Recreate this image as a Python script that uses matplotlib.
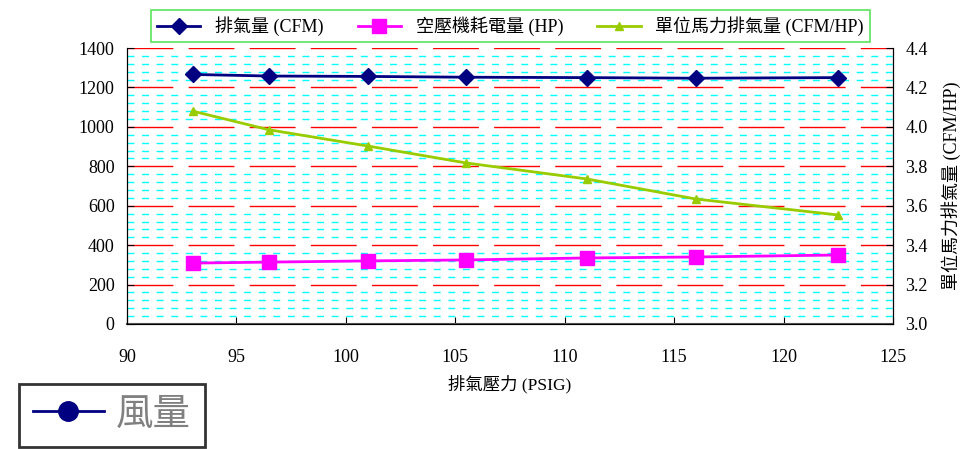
import matplotlib
matplotlib.use("Agg")
import matplotlib.pyplot as plt
from matplotlib.lines import Line2D
from matplotlib.ticker import MultipleLocator

plt.rcParams['font.family'] = ['Liberation Serif', 'Noto Sans CJK TC']

# data
pressure = [93, 96.5, 101, 105.5, 111, 116, 122.5]
cfm = [1266, 1258, 1256, 1252, 1250, 1247, 1250]
hp = [309, 314, 320, 325, 335, 340, 350]
cfm_per_hp = [4.08, 3.985, 3.903, 3.817, 3.736, 3.634, 3.553]

labels = ["排氣量 (CFM)", "空壓機耗電量 (HP)", "單位馬力排氣量 (CFM/HP)"]

fig = plt.figure(figsize=(9.74, 4.49), dpi=100)
ax = fig.add_axes([0.1304, 0.2784, 0.7864, 0.6146])
ax2 = ax.twinx()

# grid lines: red long dashes at majors, cyan short dashes at minors
ax.set_ylim(0, 1400)
ax.yaxis.set_major_locator(MultipleLocator(200))
ax.yaxis.set_minor_locator(MultipleLocator(40))
ax.grid(True, which="major", axis="y", color="#FF0000", linestyle=(0, (33, 11)), linewidth=1)
ax.grid(True, which="minor", axis="y", color="#00FFFF", linestyle=(0, (5, 5.5)), linewidth=1)
ax.set_axisbelow(True)

ax.set_xlim(90, 125)
ax.xaxis.set_major_locator(MultipleLocator(5))

l1, = ax.plot(pressure, cfm, color="#000080", marker="D", markersize=8, linewidth=2)
l2, = ax.plot(pressure, hp, color="#FF00FF", marker="s", markersize=10, linewidth=2)
l3, = ax2.plot(pressure, cfm_per_hp, color="#99CC00", marker="^", markersize=6, linewidth=2)

ax2.set_ylim(3.0, 4.4)
ax2.yaxis.set_major_locator(MultipleLocator(0.2))
ax2.yaxis.set_major_formatter(plt.FuncFormatter(lambda v, p: f"{v:.1f}"))

for a in (ax, ax2):
    a.spines["top"].set_visible(False)
    a.tick_params(direction="in", length=5, labelsize=13, pad=9)
    a.tick_params(which="minor", length=0)
ax.tick_params(axis="x", pad=18)
ax.spines["bottom"].set_color("#555555")
ax.spines["bottom"].set_linewidth(1.5)

ax.set_xlabel("排氣壓力 (PSIG)", fontsize=12.5, labelpad=6)
ax2.set_ylabel("單位馬力排氣量 (CFM/HP)", fontsize=13, rotation=90, labelpad=10)

leg = fig.legend([l1, l2, l3], labels, ncol=3, loc="upper center",
                 bbox_to_anchor=(0.524, 0.998), fontsize=13, frameon=True,
                 fancybox=False, handlelength=2.4, columnspacing=1.9,
                 borderpad=0.35)
leg.get_frame().set_edgecolor("#33DD33")
leg.get_frame().set_linewidth(1.2)

# extra key in the bottom-left corner
h = Line2D([], [], color="#000080", marker="o", markersize=14, linewidth=2)
leg2 = fig.legend([h], ["風量"], loc="lower left", bbox_to_anchor=(0.019, 0.005),
                  borderaxespad=0, fontsize=27, frameon=True, fancybox=False,
                  handlelength=1.9, handletextpad=0.3, borderpad=0.38,
                  labelcolor="#808080")
leg2.get_frame().set_edgecolor("black")
leg2.get_frame().set_linewidth(2)

fig.savefig("out.png", dpi=100)
